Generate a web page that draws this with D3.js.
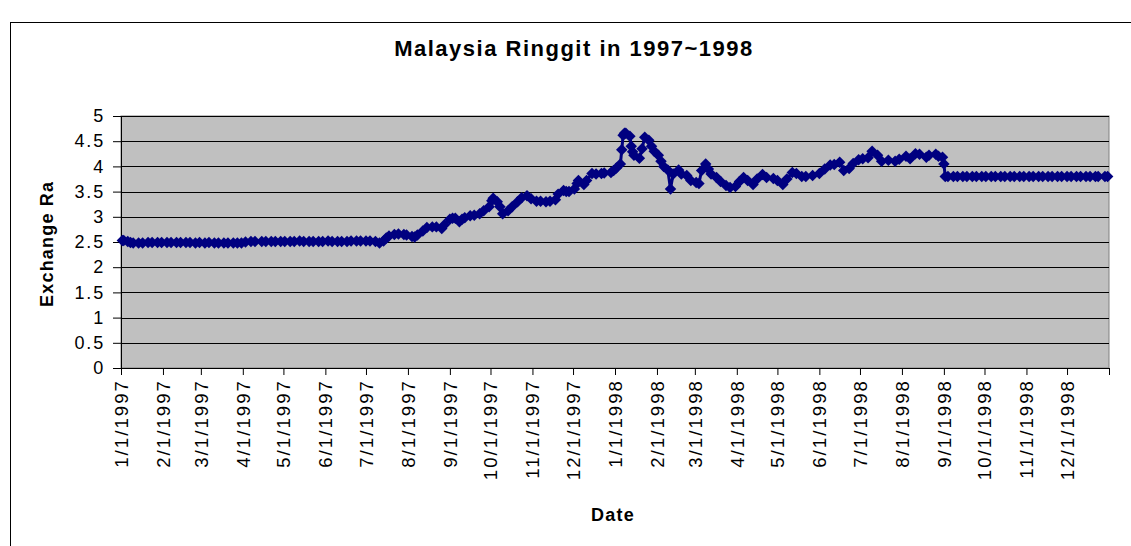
<!DOCTYPE html>
<html>
<head>
<meta charset="utf-8">
<script src="https://cdn.jsdelivr.net/npm/d3@7"></script>
<style>
  body { margin: 0; background: #fff; }
  svg text { font-family: "Liberation Sans", Arial, sans-serif; fill: #000; }
</style>
</head>
<body>
<svg id="chart" width="1131" height="546"></svg>
<script>
// ringgit per US dollar (a few points per week)
var dates = [
  // 1997
  "1997-01-02","1997-01-03","1997-01-06","1997-01-08","1997-01-10","1997-01-14","1997-01-17","1997-01-21","1997-01-24","1997-01-28","1997-01-31",
  "1997-02-04","1997-02-07","1997-02-11","1997-02-14","1997-02-18","1997-02-21","1997-02-25","1997-02-28",
  "1997-03-04","1997-03-07","1997-03-11","1997-03-14","1997-03-18","1997-03-21","1997-03-25","1997-03-28","1997-03-31",
  "1997-04-03","1997-04-07","1997-04-10","1997-04-15","1997-04-18","1997-04-22","1997-04-25","1997-04-29",
  "1997-05-02","1997-05-06","1997-05-09","1997-05-13","1997-05-16","1997-05-20","1997-05-23","1997-05-27","1997-05-30",
  "1997-06-03","1997-06-06","1997-06-10","1997-06-13","1997-06-17","1997-06-20","1997-06-24","1997-06-27",
  "1997-07-01","1997-07-04","1997-07-08","1997-07-11","1997-07-14","1997-07-16","1997-07-18","1997-07-22","1997-07-25","1997-07-29","1997-07-31",
  "1997-08-04","1997-08-06","1997-08-08","1997-08-12","1997-08-15","1997-08-19","1997-08-22","1997-08-26","1997-08-28",
  "1997-09-01","1997-09-03","1997-09-05","1997-09-08","1997-09-10","1997-09-12","1997-09-16","1997-09-19","1997-09-23","1997-09-26","1997-09-30",
  "1997-10-02","1997-10-03","1997-10-06","1997-10-08","1997-10-10","1997-10-14","1997-10-17","1997-10-21","1997-10-24","1997-10-28","1997-10-31",
  "1997-11-04","1997-11-07","1997-11-11","1997-11-14","1997-11-18","1997-11-20","1997-11-24","1997-11-26","1997-11-28",
  "1997-12-02","1997-12-04","1997-12-05","1997-12-09","1997-12-11","1997-12-15","1997-12-18","1997-12-22","1997-12-24","1997-12-29","1997-12-31",
  // 1998
  "1998-01-02","1998-01-05","1998-01-06","1998-01-07","1998-01-08","1998-01-09","1998-01-12","1998-01-13","1998-01-14","1998-01-15","1998-01-19","1998-01-21","1998-01-23","1998-01-26","1998-01-28","1998-01-30",
  "1998-02-02","1998-02-04","1998-02-06","1998-02-09","1998-02-11","1998-02-13","1998-02-17","1998-02-19","1998-02-23","1998-02-26",
  "1998-03-02","1998-03-04","1998-03-06","1998-03-09","1998-03-11","1998-03-13","1998-03-17","1998-03-20","1998-03-24","1998-03-27","1998-03-31",
  "1998-04-03","1998-04-06","1998-04-09","1998-04-13","1998-04-16","1998-04-20","1998-04-23","1998-04-28",
  "1998-05-01","1998-05-05","1998-05-08","1998-05-12","1998-05-15","1998-05-19","1998-05-22","1998-05-27",
  "1998-06-01","1998-06-05","1998-06-09","1998-06-12","1998-06-16","1998-06-19","1998-06-23","1998-06-26","1998-06-30",
  "1998-07-03","1998-07-07","1998-07-10","1998-07-14","1998-07-17","1998-07-22","1998-07-27","1998-07-30",
  "1998-08-04","1998-08-07","1998-08-11","1998-08-14","1998-08-19","1998-08-21","1998-08-26","1998-08-28","1998-08-31",
  "1998-09-01","1998-09-02","1998-09-04","1998-09-08","1998-09-11","1998-09-15","1998-09-18","1998-09-22","1998-09-25","1998-09-29",
  "1998-10-02","1998-10-06","1998-10-09","1998-10-13","1998-10-16","1998-10-20","1998-10-23","1998-10-27","1998-10-30",
  "1998-11-03","1998-11-06","1998-11-10","1998-11-13","1998-11-17","1998-11-20","1998-11-24","1998-11-27",
  "1998-12-01","1998-12-04","1998-12-08","1998-12-11","1998-12-15","1998-12-18","1998-12-22","1998-12-24","1998-12-29","1998-12-31"
];

var rates = [
  // 1997
  2.53,2.53,2.51,2.49,2.48,2.48,2.48,2.49,2.49,2.49,2.49,
  2.49,2.49,2.49,2.49,2.49,2.49,2.48,2.49,
  2.48,2.49,2.48,2.48,2.48,2.48,2.48,2.48,2.48,
  2.50,2.51,2.51,2.51,2.51,2.51,2.51,2.51,
  2.51,2.51,2.51,2.52,2.51,2.51,2.51,2.51,2.51,
  2.52,2.51,2.51,2.51,2.51,2.52,2.52,2.52,
  2.52,2.52,2.51,2.48,2.52,2.58,2.62,2.65,2.66,2.65,2.64,
  2.61,2.60,2.64,2.72,2.79,2.80,2.80,2.77,2.84,
  2.95,2.97,2.97,2.90,2.95,2.98,3.02,3.03,3.06,3.12,3.20,
  3.32,3.37,3.30,3.20,3.06,3.12,3.20,3.30,3.38,3.42,3.36,
  3.31,3.31,3.30,3.31,3.34,3.45,3.52,3.50,3.50,
  3.55,3.66,3.72,3.64,3.72,3.86,3.85,3.86,3.87,3.88,3.92,
  // 1998
  3.97,4.05,4.33,4.62,4.66,4.66,4.60,4.40,4.29,4.22,4.16,4.35,4.58,4.52,4.40,4.30,
  4.22,4.10,4.00,3.93,3.55,3.85,3.93,3.85,3.82,3.72,
  3.68,3.66,3.92,4.05,3.95,3.85,3.78,3.70,3.62,3.58,3.60,
  3.70,3.78,3.72,3.64,3.75,3.84,3.78,3.76,
  3.72,3.64,3.75,3.88,3.86,3.80,3.80,3.82,
  3.86,3.95,4.03,4.04,4.08,3.92,3.96,4.06,4.13,
  4.15,4.17,4.30,4.22,4.10,4.12,4.10,4.14,
  4.20,4.15,4.25,4.24,4.18,4.22,4.24,4.20,4.18,
  4.05,3.80,3.80,3.80,3.80,3.80,3.80,3.80,3.80,3.80,
  3.80,3.80,3.80,3.80,3.80,3.80,3.80,3.80,3.80,
  3.80,3.80,3.80,3.80,3.80,3.80,3.80,3.80,
  3.80,3.80,3.80,3.80,3.80,3.80,3.80,3.80,3.80,3.80
];

var yTicks = [0, 0.5, 1, 1.5, 2, 2.5, 3, 3.5, 4, 4.5, 5];
var monthLabels = [
  "1/1/1997","2/1/1997","3/1/1997","4/1/1997","5/1/1997","6/1/1997",
  "7/1/1997","8/1/1997","9/1/1997","10/1/1997","11/1/1997","12/1/1997",
  "1/1/1998","2/1/1998","3/1/1998","4/1/1998","5/1/1998","6/1/1998",
  "7/1/1998","8/1/1998","9/1/1998","10/1/1998","11/1/1998","12/1/1998"
];
var axisEnd = "1/1/1999";   // last tick, Excel leaves it unlabeled

var titleText = "Malaysia Ringgit in 1997~1998";
var xTitle = "Date";
var yTitle = "Exchange Rate";

var parseIso = d3.utcParse("%Y-%m-%d");
var parseUs = d3.utcParse("%m/%d/%Y");

var data = dates.map(function(d, i) {
  return { date: parseIso(d), rate: rates[i] };
});
var tickDates = monthLabels.concat([axisEnd]).map(function(s) { return parseUs(s); });

// plot area box
var plot = { left: 121, top: 116, width: 988, height: 252 };

var svg = d3.select("#chart");

var x = d3.scaleUtc()
  .domain([parseUs("1/1/1997"), parseUs(axisEnd)])
  .range([plot.left, plot.left + plot.width]);

var y = d3.scaleLinear()
  .domain([0, 5])
  .range([plot.top + plot.height, plot.top]);

// outer chart frame
svg.append("rect")
  .attr("x", 10.5).attr("y", 22.5)
  .attr("width", 1135).attr("height", 540)
  .attr("fill", "#fff")
  .attr("stroke", "#000")
  .attr("stroke-width", 1);

// title
svg.append("text")
  .attr("x", 574).attr("y", 56)
  .attr("text-anchor", "middle")
  .style("font-size", "22px")
  .style("font-weight", "bold")
  .style("letter-spacing", "1.5px")
  .text(titleText);

// grey plot background
svg.append("rect")
  .attr("x", plot.left).attr("y", plot.top)
  .attr("width", plot.width).attr("height", plot.height)
  .attr("fill", "#c0c0c0")
  .attr("stroke", "#808080")
  .attr("stroke-width", 1);

// horizontal gridlines
svg.append("g")
  .selectAll("line")
  .data(yTicks.slice(1))
  .enter().append("line")
  .attr("x1", plot.left).attr("x2", plot.left + plot.width)
  .attr("y1", function(d) { return Math.round(y(d)) + 0.5; })
  .attr("y2", function(d) { return Math.round(y(d)) + 0.5; })
  .attr("stroke", "#000")
  .attr("stroke-width", 1);

// y axis
var yAxis = svg.append("g")
  .attr("transform", "translate(" + plot.left + ",0)")
  .call(d3.axisLeft(y).tickValues(yTicks).tickSize(8).tickSizeOuter(0).tickPadding(8)
    .tickFormat(function(d) { return String(d); }));
yAxis.selectAll("path, line").attr("stroke", "#000");
yAxis.selectAll("text")
  .style("font-size", "18px")
  .style("letter-spacing", "1.8px");

// x axis
var xAxis = svg.append("g")
  .attr("transform", "translate(0," + (plot.top + plot.height) + ")")
  .call(d3.axisBottom(x).tickValues(tickDates).tickSize(7).tickSizeOuter(0)
    .tickFormat(function(d, i) { return i < monthLabels.length ? monthLabels[i] : ""; }));
xAxis.selectAll("path, line").attr("stroke", "#000");
xAxis.selectAll("text")
  .attr("transform", "rotate(-90)")
  .attr("x", -11).attr("y", 0).attr("dy", "0.35em")
  .style("text-anchor", "end")
  .style("font-size", "18.5px")
  .style("letter-spacing", "2.1px");

// axis titles
svg.append("text")
  .attr("x", 613).attr("y", 521)
  .attr("text-anchor", "middle")
  .style("font-size", "18px")
  .style("font-weight", "bold")
  .style("letter-spacing", "1.2px")
  .text(xTitle);

// Excel cut the y title short, so clip it the same way
svg.append("clipPath").attr("id", "ytitle-clip")
  .append("rect").attr("x", 0).attr("y", 181).attr("width", 100).attr("height", 200);

svg.append("g")
  .attr("clip-path", "url(#ytitle-clip)")
  .append("text")
  .attr("transform", "translate(53,307) rotate(-90)")
  .attr("text-anchor", "start")
  .style("font-size", "18px")
  .style("font-weight", "bold")
  .style("letter-spacing", "1.2px")
  .text(yTitle);

// series line + diamond markers
var line = d3.line()
  .x(function(d) { return x(d.date); })
  .y(function(d) { return y(d.rate); });

svg.append("path")
  .datum(data)
  .attr("d", line)
  .attr("fill", "none")
  .attr("stroke", "#000080")
  .attr("stroke-width", 3)
  .attr("stroke-linejoin", "round");

var diamond = d3.symbol().type(d3.symbolSquare).size(66);

svg.append("g")
  .selectAll("path")
  .data(data)
  .enter().append("path")
  .attr("d", diamond)
  .attr("transform", function(d) {
    return "translate(" + x(d.date) + "," + y(d.rate) + ") rotate(45)";
  })
  .attr("fill", "#000080");
</script>
</body>
</html>
